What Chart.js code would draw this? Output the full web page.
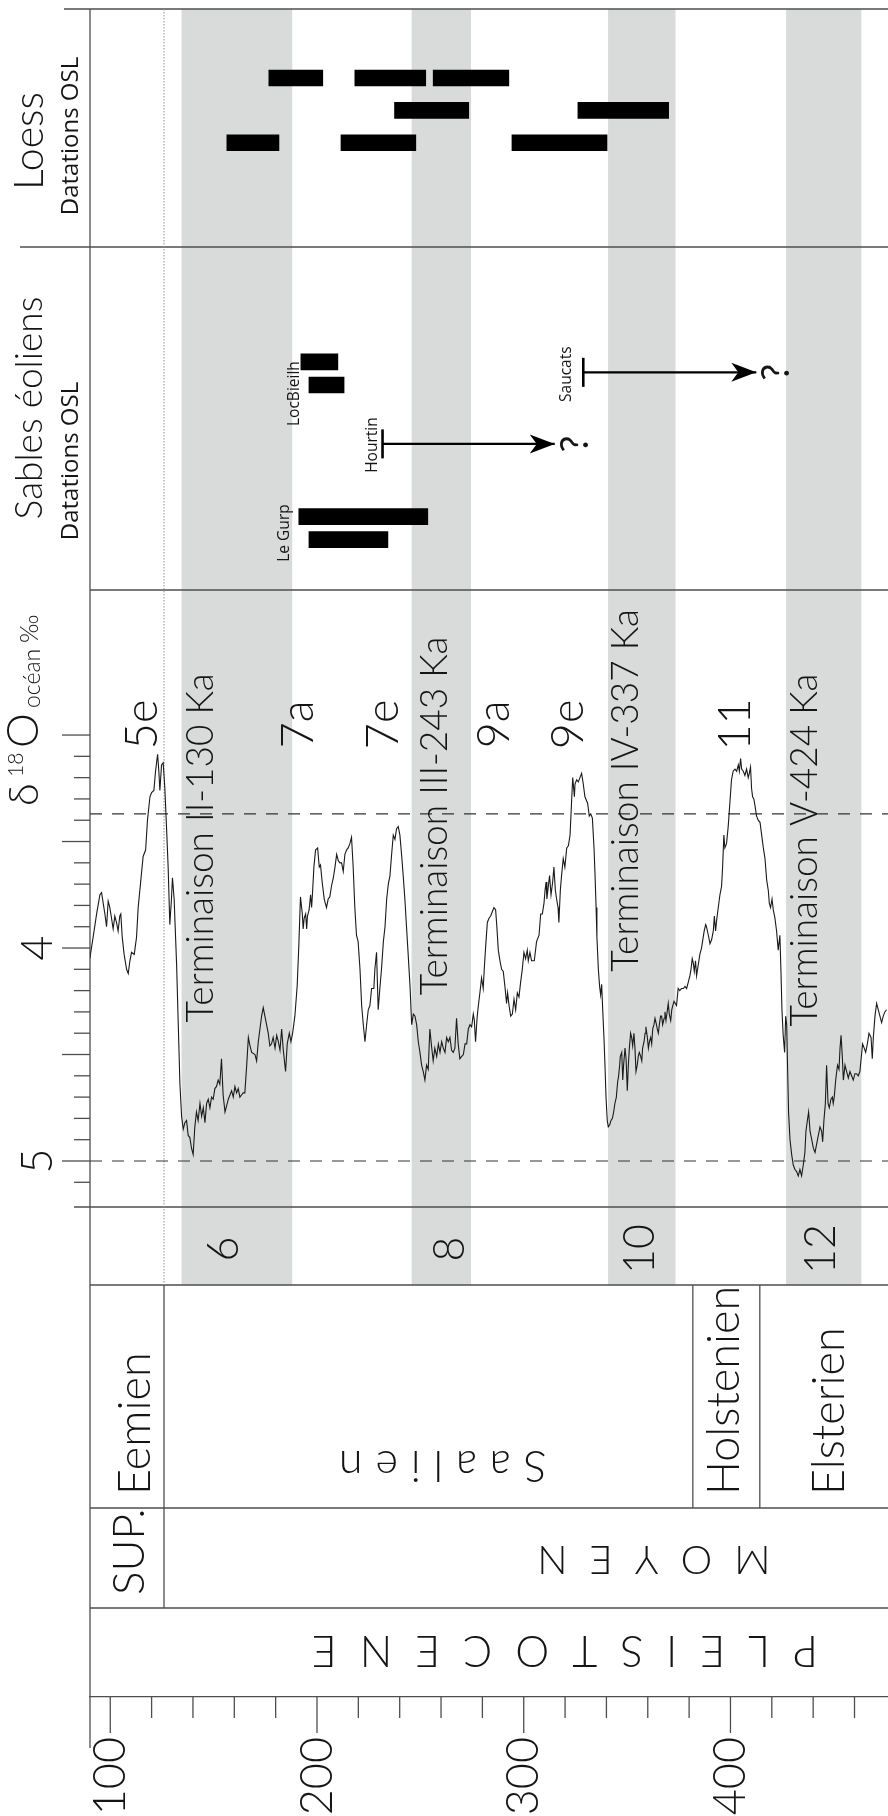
<!DOCTYPE html>
<html>
<head>
<meta charset="utf-8">
<script src="https://cdn.jsdelivr.net/npm/chart.js"></script>
<style>
html, body { margin: 0; padding: 0; background: #fff; }
#wrap { position: relative; width: 888px; height: 1816px; }
#wrap canvas { position: absolute; left: 0; top: 0; }
</style>
</head>
<body>
<div id="wrap">
<canvas id="baseChart" width="888" height="1816"></canvas>
<canvas id="loessChart" width="888" height="1816"></canvas>
<canvas id="sablesChart" width="888" height="1816"></canvas>
<canvas id="isoChart" width="888" height="1816"></canvas>
</div>
<script>
// courbe isotopique : age (ka) / delta 18O ocean (permil)
const ages = [
  90.1, 91.7, 93.4, 95.0, 95.8, 96.6, 97.4, 98.2, 99.0, 99.8,
  100.6, 101.4, 102.2, 103.0, 103.8, 104.6, 105.1, 105.8, 106.7, 107.9,
  108.7, 109.5, 110.3, 111.6, 112.7, 113.5, 114.8, 115.9, 117.1, 118.0,
  119.2, 120.0, 121.1, 121.9, 122.9, 123.5, 124.0, 124.8, 125.6, 126.4,
  127.2, 128.0, 128.8, 129.6, 130.1, 130.9, 132.1, 132.9, 133.7, 134.5,
  135.3, 136.1, 136.9, 137.7, 138.5, 139.3, 140.1, 140.9, 141.7, 142.5,
  143.4, 144.2, 145.0, 145.8, 146.6, 147.4, 148.2, 149.0, 149.8, 150.6,
  151.4, 152.2, 153.0, 153.8, 154.6, 155.5, 156.3, 157.1, 158.7, 159.5,
  160.3, 161.1, 161.9, 162.7, 163.5, 164.3, 165.1, 166.0, 166.8, 167.6,
  168.4, 170.0, 170.8, 171.6, 172.4, 173.2, 174.0, 174.8, 175.6, 176.4,
  177.2, 178.0, 178.8, 179.7, 180.5, 181.3, 182.1, 182.9,

  183.7, 184.8, 185.6, 186.6, 187.4, 188.2, 189.3, 190.4, 191.2, 192.0,
  192.9, 193.3, 193.8, 194.5, 195.0, 195.4, 196.2, 196.9, 197.4, 197.9,
  198.5, 199.3, 200.3, 201.1, 201.7, 202.5, 203.5, 204.6, 205.4, 206.2,
  207.0, 207.9, 208.7, 209.5, 210.3, 211.1, 211.9, 212.7, 213.5, 214.3,
  215.1, 215.9, 216.7, 217.5, 218.3, 219.1, 219.9, 220.8, 221.6, 222.4,
  223.2, 224.0, 224.8, 225.6, 226.4, 226.9, 227.5, 228.0, 228.8, 229.6,
  230.4, 231.2, 232.1, 232.9, 233.7, 234.5, 235.3, 236.1, 236.9, 237.7,
  238.5, 239.3, 240.1, 240.9, 241.7, 242.5, 243.3, 244.1, 245.0, 245.8,
  246.6, 247.4, 248.2, 249.0, 249.8, 250.6, 251.4, 252.2, 253.0, 253.8,
  254.6, 255.4, 256.2, 257.0, 257.9, 258.7, 259.5, 260.3, 261.1, 261.9,
  262.7, 263.5, 264.3, 265.1, 265.9, 266.7, 267.5, 268.3, 269.1, 269.9,
  270.8, 271.6, 272.4, 273.2, 274.0, 274.8, 275.6, 276.1, 276.7, 277.5,
  278.3,

  278.8, 279.6, 280.4, 280.9, 281.6, 282.4, 283.2, 284.0, 284.8, 285.6,
  286.4, 287.0, 287.7, 288.5, 289.3, 290.1, 290.9, 291.7, 292.2, 292.9,
  293.7, 294.5, 295.3, 296.1, 296.9, 297.7, 298.5, 299.3, 300.1, 300.9,
  301.7, 302.2, 303.0, 303.8, 305.1, 306.2, 307.4, 308.2, 309.0, 309.8,
  310.3, 310.8, 311.2, 311.9, 312.5, 313.2, 314.0, 314.6, 315.3, 315.9,
  316.6, 317.0, 317.7, 318.3, 319.1, 319.9, 320.8, 321.6, 322.4, 323.2,
  323.7, 324.5, 324.8, 325.6, 326.4, 327.2, 328.0, 328.8, 329.6, 330.9,
  331.7, 332.4, 333.2, 334.0, 334.5, 335.0, 335.4, 336.1, 336.7, 337.2,
  337.7, 338.2, 338.8, 339.3, 339.8, 340.4, 340.9, 341.6, 342.2, 342.9,
  343.5, 344.1, 344.8, 345.4, 345.9, 346.4, 346.7, 347.4, 347.9, 348.3,
  349.0, 349.5, 350.1, 350.6, 351.1, 351.7, 352.2, 352.7, 353.3, 353.8,
  354.3, 354.9, 355.4, 355.9, 356.6, 357.1, 357.5, 358.2, 358.7, 359.1,
  359.8, 360.3, 360.8, 361.4, 361.9, 362.4, 363.0, 363.5, 364.0, 364.6,
  365.1, 365.6, 366.2, 366.7, 367.2, 367.9, 368.3, 368.8, 369.5, 369.9,
  370.4, 371.1, 371.6, 372.1, 372.7,

  373.9, 374.7, 375.5, 376.3, 377.2, 378.0, 378.8, 379.6, 380.4, 380.9,
  381.5, 382.0, 382.5, 383.1, 383.6, 384.4, 385.2, 386.0, 386.8, 387.3,
  388.0, 388.4, 389.3, 390.1, 390.9, 391.7, 392.2, 392.8, 393.3, 394.1,
  394.9, 395.7, 396.2, 396.8, 397.3, 398.1, 398.9, 399.7, 400.5, 401.3,
  402.2, 403.0, 403.8, 404.3, 404.9, 405.4, 406.2, 407.0, 407.8, 408.6,
  409.1, 409.7, 410.2, 410.7, 411.3, 412.0, 412.6, 413.4, 414.3, 415.1,
  415.9, 416.7, 417.5, 418.3, 418.8, 419.4, 420.1, 420.7, 421.5, 422.3,
  423.1, 423.9, 424.4, 424.9, 425.5, 426.2, 426.7, 427.2, 427.6, 428.1,
  428.8, 429.6, 430.4, 431.2, 432.0, 432.8, 433.6, 434.4, 435.2, 436.0,
  436.5, 437.2, 437.8, 438.5, 439.3, 440.1, 440.9, 441.7, 442.5, 443.3,
  444.1, 444.6, 445.2, 445.9, 446.5, 447.2, 447.8, 448.6, 449.3, 449.7,
  450.2, 450.9, 451.4, 451.8, 452.5, 453.0, 453.5, 454.1, 454.6, 455.4,
  456.2, 457.0, 457.8, 458.6, 459.4, 460.2, 461.0, 461.8, 462.6, 463.5,
  463.9, 464.7, 465.4, 466.2, 467.0, 468.0, 468.6, 469.1, 469.9, 470.7,
  471.5, 472.3, 473.1, 473.9, 474.7, 475.5
];

const d18O = [
  4.05, 3.95, 3.84, 3.75, 3.74, 3.79, 3.84, 3.90, 3.78, 3.81,
  3.86, 3.91, 3.85, 3.88, 3.92, 3.85, 3.84, 3.95, 4.03, 4.10,
  4.12, 4.06, 4.02, 4.03, 3.95, 3.81, 3.68, 3.57, 3.54, 3.40,
  3.29, 3.27, 3.26, 3.17, 3.09, 3.17, 3.26, 3.14, 3.13, 3.25,
  3.43, 3.62, 3.89, 3.77, 3.67, 3.77, 4.08, 4.36, 4.64, 4.79,
  4.85, 4.82, 4.81, 4.88, 4.89, 4.94, 4.97, 4.84, 4.77, 4.81,
  4.73, 4.79, 4.75, 4.82, 4.73, 4.71, 4.75, 4.70, 4.71, 4.66,
  4.65, 4.62, 4.64, 4.52, 4.69, 4.77, 4.74, 4.71, 4.67, 4.70,
  4.65, 4.68, 4.66, 4.70, 4.69, 4.68, 4.68, 4.55, 4.42, 4.46,
  4.49, 4.50, 4.53, 4.44, 4.38, 4.32, 4.28, 4.32, 4.36, 4.40,
  4.46, 4.45, 4.42, 4.47, 4.41, 4.44, 4.48, 4.38,

  4.48, 4.58, 4.45, 4.40, 4.44, 4.40, 4.32, 4.18, 3.99, 3.76,
  3.84, 3.91, 3.86, 3.84, 3.91, 3.85, 3.82, 3.75, 3.81, 3.73,
  3.62, 3.54, 3.53, 3.62, 3.61, 3.69, 3.77, 3.81, 3.77, 3.76,
  3.71, 3.67, 3.62, 3.56, 3.59, 3.60, 3.60, 3.64, 3.56, 3.54,
  3.53, 3.51, 3.48, 3.62, 3.81, 3.94, 3.97, 4.10, 4.27, 4.36,
  4.44, 4.36, 4.29, 4.27, 4.19, 4.19, 4.19, 4.10, 4.02, 4.29,
  4.19, 4.10, 3.97, 3.90, 3.77, 3.70, 3.66, 3.56, 3.47, 3.49,
  3.44, 3.43, 3.47, 3.56, 3.66, 3.77, 3.90, 4.03, 4.18, 4.36,
  4.31, 4.32, 4.36, 4.44, 4.49, 4.55, 4.58, 4.62, 4.55, 4.57,
  4.38, 4.46, 4.53, 4.47, 4.51, 4.45, 4.49, 4.44, 4.47, 4.49,
  4.42, 4.44, 4.42, 4.48, 4.49, 4.47, 4.33, 4.45, 4.52, 4.51,
  4.50, 4.45, 4.45, 4.38, 4.36, 4.37, 4.31, 4.34, 4.44, 4.32,
  4.25,

  4.21, 4.14, 4.19, 4.10, 3.99, 3.88, 3.86, 3.85, 3.83, 3.81,
  3.82, 3.90, 4.01, 4.06, 4.10, 4.11, 4.18, 4.26, 4.21, 4.27,
  4.32, 4.31, 4.24, 4.29, 4.21, 4.23, 4.16, 4.10, 4.02, 4.05,
  4.01, 4.06, 4.02, 4.06, 4.06, 3.97, 3.94, 3.84, 3.84, 3.79,
  3.73, 3.69, 3.77, 3.71, 3.66, 3.75, 3.69, 3.62, 3.73, 3.77,
  3.81, 3.88, 3.73, 3.66, 3.58, 3.62, 3.53, 3.52, 3.47, 3.30,
  3.20, 3.29, 3.23, 3.21, 3.22, 3.20, 3.18, 3.23, 3.29, 3.32,
  3.38, 3.37, 3.39, 3.53, 3.66, 3.81, 3.95, 4.10, 4.18, 4.22,
  4.17, 4.29, 4.42, 4.55, 4.70, 4.81, 4.84, 4.83, 4.81, 4.80,
  4.77, 4.73, 4.70, 4.63, 4.60, 4.55, 4.51, 4.49, 4.62, 4.55,
  4.47, 4.52, 4.67, 4.55, 4.47, 4.40, 4.42, 4.46, 4.40, 4.47,
  4.58, 4.55, 4.51, 4.49, 4.51, 4.53, 4.47, 4.44, 4.40, 4.37,
  4.42, 4.47, 4.44, 4.42, 4.45, 4.38, 4.36, 4.33, 4.35, 4.38,
  4.40, 4.36, 4.32, 4.32, 4.36, 4.33, 4.30, 4.34, 4.29, 4.26,
  4.31, 4.34, 4.29, 4.27, 4.25,

  4.27, 4.19, 4.20, 4.19, 4.19, 4.18, 4.19, 4.16, 4.13, 4.10,
  4.05, 4.07, 4.11, 4.06, 4.13, 4.08, 4.03, 4.00, 3.95, 3.92,
  3.89, 3.90, 3.94, 3.98, 3.96, 3.92, 3.85, 3.92, 3.87, 3.81,
  3.75, 3.71, 3.62, 3.47, 3.53, 3.51, 3.43, 3.32, 3.21, 3.17,
  3.16, 3.17, 3.14, 3.17, 3.11, 3.16, 3.17, 3.19, 3.16, 3.20,
  3.18, 3.15, 3.25, 3.29, 3.30, 3.34, 3.38, 3.40, 3.41, 3.47,
  3.53, 3.58, 3.68, 3.73, 3.79, 3.81, 3.77, 3.82, 3.86, 3.92,
  4.01, 3.94, 4.10, 4.29, 4.41, 4.49, 4.32, 4.36, 4.55, 4.77,
  4.90, 4.97, 5.02, 5.04, 5.05, 5.07, 5.04, 5.07, 5.02, 4.96,
  4.86, 4.81, 4.77, 4.86, 4.90, 4.94, 4.96, 4.92, 4.88, 4.84,
  4.86, 4.91, 4.81, 4.73, 4.55, 4.73, 4.75, 4.71, 4.70, 4.73,
  4.70, 4.62, 4.58, 4.55, 4.57, 4.47, 4.41, 4.51, 4.62, 4.55,
  4.58, 4.61, 4.58, 4.60, 4.62, 4.59, 4.59, 4.60, 4.58, 4.49,
  4.45, 4.47, 4.49, 4.45, 4.40, 4.42, 4.52, 4.42, 4.32, 4.26,
  4.29, 4.32, 4.35, 4.32, 4.30, 4.29
];

// loess : datations OSL (ka)
const loessStart = [176.7, 218.3, 256.2, 237.5, 326.2, 156.4, 211.6, 294.3];
const loessEnd   = [202.8, 252.6, 292.8, 273.4, 370.1, 181.6, 247.8, 340.3];
const loessRow   = [1, 1, 1, 2, 2, 3, 3, 3];

// sables eoliens : datations OSL (ka)
const sablesSite  = ["LocBieilh", "LocBieilh", "Le Gurp", "Le Gurp"];
const sablesStart = [192.2, 196.1, 191.2, 196.1];
const sablesEnd   = [210.1, 213.1, 253.6, 234.3];
const sablesLane  = [4.05, 5.05, 10.75, 11.75];

// ages minimum (fleche vers ?)
const arrowSite  = ["Hourtin", "Saucats"];
const arrowStart = [231.7, 328.8];
const arrowEnd   = [315.0, 412.5];
const arrowLane  = [7.6, 4.5];

// stades isotopiques glaciaires (bandes grises)
const misNames = ["6", "8", "10", "12"];
const misStart = [134.5, 245.8, 340.8, 426.9];
const misEnd   = [188.0, 274.5, 373.4, 463.3];

const peakNames = ["5e", "7a", "7e", "9a", "9e", "11"];
const termNames = ["Terminaison II-130 Ka", "Terminaison III-243 Ka", "Terminaison IV-337 Ka", "Terminaison V-424 Ka"];

const stageNames  = ["Eemien", "Holstenien", "Elsterien"];
const stageBounds = [126.0, 381.8, 414.2];

const ageTicks = [100, 120, 140, 160, 180, 200, 220, 240, 260, 280, 300, 320, 340, 360, 380, 400, 420, 440, 460];
const isoTicks = [3.0, 3.1, 3.2, 3.3, 3.4, 3.5, 3.6, 3.7, 3.8, 3.9, 4.0, 4.1, 4.2, 4.3, 4.4, 4.5, 4.6, 4.7, 4.8, 4.9, 5.0, 5.1];
const isoLabels = [4, 5];
const isoRef = [3.37, 5.0];

// ---- mise en page ----
const W = 888, H = 1816;
const PANEL = { left: 90, top: 9, sables: 247, iso: 590, mis: 1207, stage: 1285, epoch: 1508, pleisto: 1608, axis: 1697 };
const AGE_MIN = 90.2, AGE_MAX = 476.2;

// positions des textes (ages et niveaux)
const siteLabelAge  = [191.4, 186.6, 229.1, 322.7];
const siteLabelLane = [5.42, 11.46, 7.65, 4.58];
const siteLabelText = ["LocBieilh", "Le Gurp", "Hourtin", "Saucats"];
const peakAge = [122.4, 198.2, 239.3, 292.8, 328.8, 409.5];
const PEAK_LEVEL = 2.95;
const termAge   = [149.6, 262.7, 355.4, 441.7];
const termLevel = [3.53, 3.38, 3.26, 3.54];
const misLabelAge = [161.6, 271.1, 363.0, 450.6];
const stageLabelAge = [119.2, 404.1, 455.0];

const INK = "#151515";
const FRAME = "#4e4e4e";
const BAND = "#d9dada";
const LATO = '"Lato", "DejaVu Sans", sans-serif';
const OPEN = '"Open Sans", "DejaVu Sans", sans-serif';
const UP = -Math.PI / 2;

function txt(ctx, s, x, y, font, align, rot) {
    ctx.save();
    ctx.translate(x, y);
    ctx.rotate(rot === undefined ? UP : rot);
    ctx.font = font;
    ctx.fillStyle = INK;
    ctx.textAlign = align || "center";
    ctx.textBaseline = "alphabetic";
    ctx.fillText(s, 0, 0);
    ctx.restore();
}

// texte a l'envers, lettres espacees
function spaced(ctx, s, cx, y, font, gap) {
    ctx.save();
    ctx.font = font;
    const chars = [...s];
    const ws = chars.map(c => ctx.measureText(c).width);
    const total = ws.reduce((a, b) => a + b, 0) + gap * (chars.length - 1);
    ctx.translate(cx, y);
    ctx.rotate(Math.PI);
    ctx.fillStyle = INK;
    ctx.textAlign = "left";
    ctx.textBaseline = "alphabetic";
    let p = -total / 2;
    chars.forEach((c, i) => {
        ctx.fillText(c, p, 0);
        p += ws[i] + gap;
    });
    ctx.restore();
}

function options(top, bottom, y, extra) {
    return Object.assign({
        responsive: false,
        animation: false,
        devicePixelRatio: 1,
        events: [],
        layout: { autoPadding: false, padding: { left: PANEL.left, right: 0, top: top, bottom: H - bottom } },
        plugins: { legend: { display: false }, tooltip: { enabled: false } },
        scales: {
            x: { type: "linear", min: AGE_MIN, max: AGE_MAX, offset: false, display: false },
            y: y
        }
    }, extra || {});
}

// ---- cadre, bandes, stades, axe des ages ----
const basePlugin = {
    id: "cadre",
    afterDraw(chart) {
        const ctx = chart.ctx;
        const x = chart.scales.x;
        const px = v => x.getPixelForValue(v);
        const right = chart.chartArea.right;

        ctx.save();
        ctx.fillStyle = BAND;
        misStart.forEach((a, i) => {
            ctx.fillRect(px(a), PANEL.top, px(misEnd[i]) - px(a), PANEL.stage - PANEL.top);
        });

        ctx.strokeStyle = FRAME;
        ctx.lineWidth = 1.3;
        const hline = (yy, x0) => { ctx.beginPath(); ctx.moveTo(x0, yy); ctx.lineTo(right, yy); ctx.stroke(); };
        const vline = (xx, y0, y1) => { ctx.beginPath(); ctx.moveTo(xx, y0); ctx.lineTo(xx, y1); ctx.stroke(); };

        hline(PANEL.top, 64);
        hline(PANEL.sables, 20);
        hline(PANEL.iso, PANEL.left);
        hline(PANEL.mis, 74);
        hline(PANEL.stage, PANEL.left);
        hline(PANEL.epoch, PANEL.left);
        hline(PANEL.pleisto, PANEL.left);
        vline(PANEL.left, PANEL.top, 1748);
        vline(px(stageBounds[0]), PANEL.stage, PANEL.pleisto);
        vline(px(stageBounds[1]), PANEL.stage, PANEL.epoch);
        vline(px(stageBounds[2]), PANEL.stage, PANEL.epoch);

        ageTicks.forEach(v => vline(px(v), PANEL.axis, PANEL.axis + (v % 100 === 0 ? 36 : 21)));

        ctx.setLineDash([1.5, 1.5]);
        ctx.strokeStyle = "#8c8c8c";
        ctx.lineWidth = 1;
        vline(px(stageBounds[0]), PANEL.top, PANEL.stage);
        ctx.restore();

        misNames.forEach((m, i) => txt(ctx, m, px(misLabelAge[i]), 1249, `300 43px ${LATO}`, "center"));

        stageNames.forEach((s, i) => txt(ctx, s, px(stageLabelAge[i]), 1495, `300 45px ${LATO}`, "left"));
        txt(ctx, "SUP.", px(116.3), 1595, `300 44px ${LATO}`, "left");

        spaced(ctx, "Saalien", px(260.8), 1451, `300 43px ${LATO}`, 13);
        spaced(ctx, "MOYEN", px(363.0), 1546, `300 40px ${LATO}`, 22);
        spaced(ctx, "PLEISTOCENE", px(319.9), 1636, `300 43px ${LATO}`, 23);
    }
};

new Chart(document.getElementById("baseChart"), {
    type: "line",
    data: { datasets: [] },
    options: {
        responsive: false,
        animation: false,
        devicePixelRatio: 1,
        events: [],
        layout: { autoPadding: false, padding: { left: PANEL.left, right: 0, top: PANEL.mis, bottom: 0 } },
        plugins: { legend: { display: false }, tooltip: { enabled: false } },
        scales: {
            x: {
                type: "linear",
                min: AGE_MIN,
                max: AGE_MAX,
                offset: false,
                position: "bottom",
                afterBuildTicks: axis => { axis.ticks = ageTicks.map(v => ({ value: v })); },
                afterFit: axis => {
                    axis.height = H - PANEL.axis;
                    axis.paddingLeft = 0;
                    axis.paddingRight = 0;
                },
                grid: { display: true, drawOnChartArea: false, drawTicks: true, tickLength: 40, tickColor: "rgba(0,0,0,0)" },
                border: { display: true, color: FRAME, width: 1.3 },
                ticks: {
                    autoSkip: false,
                    minRotation: 90,
                    maxRotation: 90,
                    padding: 0,
                    color: INK,
                    font: { family: LATO, size: 45, weight: "300" },
                    callback: v => (v % 100 === 0 ? String(v) : "")
                }
            },
            y: { display: false, min: 0, max: 1 }
        }
    },
    plugins: [basePlugin]
});

// ---- loess ----
const loessPlugin = {
    id: "loessTexte",
    afterDraw(chart) {
        const ctx = chart.ctx;
        txt(ctx, "Loess", 43, 141, `300 41px ${LATO}`, "center");
        txt(ctx, "Datations OSL", 78, 136, `24px ${OPEN}`, "center");
    }
};

new Chart(document.getElementById("loessChart"), {
    type: "bar",
    data: {
        datasets: [{
            label: "Loess OSL",
            indexAxis: "y",
            data: loessStart.map((a, i) => ({ x: [a, loessEnd[i]], y: loessRow[i] })),
            backgroundColor: "#000",
            borderWidth: 0,
            barThickness: 16
        }]
    },
    options: options(PANEL.top, PANEL.sables,
        { type: "linear", display: false, reverse: true, min: -0.67, max: 5.76 },
        { indexAxis: "y" }),
    plugins: [loessPlugin]
});

// ---- sables eoliens ----
const sablesPlugin = {
    id: "sablesTexte",
    afterDatasetsDraw(chart) {
        const ctx = chart.ctx;
        const x = chart.scales.x;
        const y = chart.scales.y;

        ctx.save();
        ctx.fillStyle = "#000";
        arrowEnd.forEach((a, i) => {
            const tx = x.getPixelForValue(a);
            const ty = y.getPixelForValue(arrowLane[i]);
            ctx.beginPath();
            ctx.moveTo(tx, ty);
            ctx.lineTo(tx - 25, ty - 9.5);
            ctx.lineTo(tx - 18, ty);
            ctx.lineTo(tx - 25, ty + 9.5);
            ctx.closePath();
            ctx.fill();
            txt(ctx, "?", tx + 33, ty, `400 38px ${LATO}`, "center");
        });
        ctx.restore();

        siteLabelText.forEach((s, i) => {
            txt(ctx, s, x.getPixelForValue(siteLabelAge[i]), y.getPixelForValue(siteLabelLane[i]), `15.5px ${OPEN}`, "center");
        });

        txt(ctx, "Sables éoliens", 42, 408, `300 37px ${LATO}`, "center");
        txt(ctx, "Datations OSL", 78, 461, `24px ${OPEN}`, "center");
    }
};

const arrowSets = arrowSite.map((s, i) => ({
    type: "line",
    label: s,
    data: [{ x: arrowStart[i], y: arrowLane[i] }, { x: arrowEnd[i], y: arrowLane[i] }],
    borderColor: "#000",
    borderWidth: 2.2,
    fill: false,
    pointStyle: "line",
    pointRotation: 90,
    pointRadius: [14.5, 0],
    pointBorderWidth: 2.6,
    pointBorderColor: "#000",
    pointHoverRadius: 0
}));

new Chart(document.getElementById("sablesChart"), {
    type: "bar",
    data: {
        datasets: [{
            label: "Sables OSL",
            data: sablesStart.map((a, i) => ({ x: [a, sablesEnd[i]], y: sablesLane[i] })),
            backgroundColor: "#000",
            borderWidth: 0,
            barThickness: 16
        }].concat(arrowSets)
    },
    options: options(PANEL.sables, PANEL.iso,
        { type: "linear", display: false, reverse: true, min: 0, max: 13 },
        { indexAxis: "y" }),
    plugins: [sablesPlugin]
});

// ---- delta 18O ----
const isoPlugin = {
    id: "isoTexte",
    beforeDatasetsDraw(chart) {
        const ctx = chart.ctx;
        const y = chart.scales.y;
        ctx.save();
        ctx.strokeStyle = "#333";
        ctx.lineWidth = 1.2;
        ctx.setLineDash([12, 10]);
        isoRef.forEach(v => {
            const yy = y.getPixelForValue(v);
            ctx.beginPath();
            ctx.moveTo(PANEL.left, yy);
            ctx.lineTo(chart.chartArea.right, yy);
            ctx.stroke();
        });
        ctx.restore();
    },
    afterDraw(chart) {
        const ctx = chart.ctx;
        const x = chart.scales.x;
        const y = chart.scales.y;

        ctx.save();
        ctx.strokeStyle = FRAME;
        ctx.lineWidth = 1.3;
        isoTicks.forEach(v => {
            const yy = y.getPixelForValue(v);
            const major = Math.abs(v * 2 - Math.round(v * 2)) < 1e-6;
            ctx.beginPath();
            ctx.moveTo(major ? 62 : 74, yy);
            ctx.lineTo(PANEL.left, yy);
            ctx.stroke();
        });
        ctx.restore();

        isoLabels.forEach(v => txt(ctx, String(v), 52, y.getPixelForValue(v), `300 43px ${LATO}`, "center"));

        // titre delta18O ocean permil
        ctx.save();
        ctx.translate(38, 806);
        ctx.rotate(UP);
        ctx.fillStyle = INK;
        ctx.textBaseline = "alphabetic";
        ctx.textAlign = "left";
        ctx.font = `300 42px ${LATO}`;
        ctx.fillText("δ", 0, 0);
        ctx.font = `300 21px ${LATO}`;
        ctx.fillText("18", 29, -15);
        ctx.font = `300 44px ${LATO}`;
        ctx.fillText("O", 58, 0);
        ctx.font = `300 23px ${LATO}`;
        ctx.fillText("océan", 98, 2);
        ctx.font = `300 25px ${LATO}`;
        ctx.fillText("‰", 163, 0);
        ctx.restore();

        peakNames.forEach((p, i) => txt(ctx, p, x.getPixelForValue(peakAge[i]), y.getPixelForValue(PEAK_LEVEL), `300 45px ${LATO}`, "center"));
        termNames.forEach((t, i) => txt(ctx, t, x.getPixelForValue(termAge[i]), y.getPixelForValue(termLevel[i]), `300 37px ${LATO}`, "center"));
    }
};

new Chart(document.getElementById("isoChart"), {
    type: "line",
    data: {
        datasets: [{
            label: "δ18O océan",
            data: ages.map((a, i) => ({ x: a, y: d18O[i] })),
            borderColor: "#1a1a1a",
            borderWidth: 1.1,
            pointRadius: 0,
            tension: 0,
            fill: false
        }]
    },
    options: options(PANEL.iso, PANEL.mis,
        { type: "linear", display: false, reverse: true, min: 2.319, max: 5.216 }),
    plugins: [isoPlugin]
});
</script>
</body>
</html>
